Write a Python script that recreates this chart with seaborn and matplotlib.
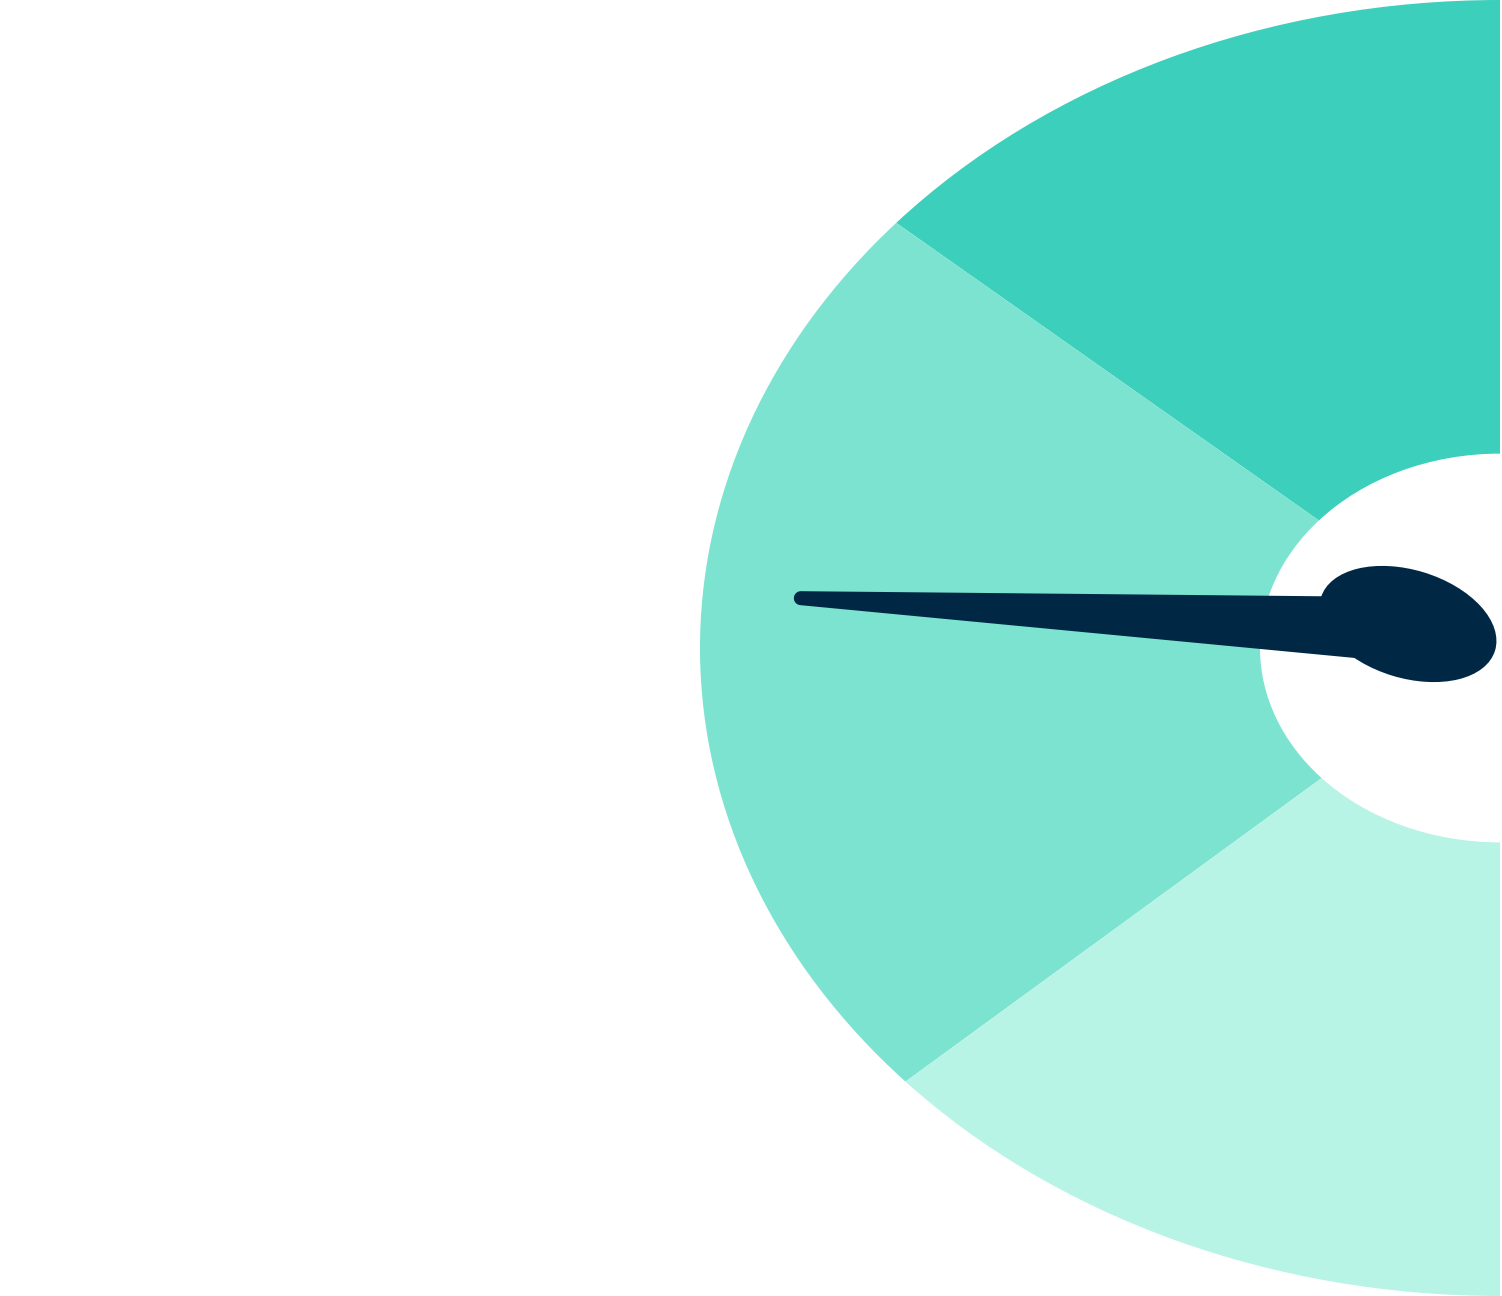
import numpy as np
import pandas as pd
import seaborn as sns
import matplotlib.pyplot as plt
from matplotlib.patches import Polygon, Ellipse
from matplotlib.transforms import Affine2D

sns.set_theme(style="white")

# gauge bands, in degrees of the half dial (top -> bottom)
bands = ["high", "mid", "low"]
band_sizes = [49, 83, 48]
band_colors = ["#3CCFBC", "#7BE3CF", "#B8F4E6"]
needle_value = 93  # 0 = bottom of dial, 180 = top
needle_color = "#002845"

df = pd.DataFrame({"band": bands, "size": band_sizes, "color": band_colors})

fig = plt.figure(figsize=(15.02, 12.96), dpi=100)
ax = fig.add_axes([0, 0, 1, 1])

# dial, drawn as a half donut then stretched sideways into an ellipse
r = 648
wedges, _ = ax.pie(df["size"] / 360, normalize=False, radius=r, startangle=90,
                   counterclock=True, colors=df["color"],
                   wedgeprops=dict(width=r * 0.70, linewidth=0))
stretch = Affine2D().scale(800 / 648, 1) + ax.transData
for w in wedges:
    w.set_transform(stretch)

# needle: tapered blade with a round tip, plus an oval hub
ang = np.deg2rad(270 - needle_value)
pivot = np.array([-92, 18])
base, tip = 45, 608
t = np.linspace(0, 1, 40)
xs = base + (tip - base) * t
hw = 31 - 24 * t
a = np.linspace(np.pi / 2, -np.pi / 2, 20)
local = np.vstack([
    np.column_stack([xs, hw]),
    np.column_stack([tip + 7 * np.cos(a), 7 * np.sin(a)]),
    np.column_stack([xs[::-1], -hw[::-1]]),
])
rot = np.array([[np.cos(ang), -np.sin(ang)], [np.sin(ang), np.cos(ang)]])
pts = local @ rot.T + pivot
ax.add_patch(Polygon(pts, closed=True, facecolor=needle_color, edgecolor="none"))
ax.add_patch(Ellipse(pivot + np.array([0, 6]), 182, 108, angle=-17,
                     facecolor=needle_color, edgecolor="none"))

ax.set_aspect("auto")
ax.set_xlim(-1500, 2)
ax.set_ylim(-648, 648)
ax.axis("off")

fig.savefig("out.png", dpi=100, facecolor="white")
